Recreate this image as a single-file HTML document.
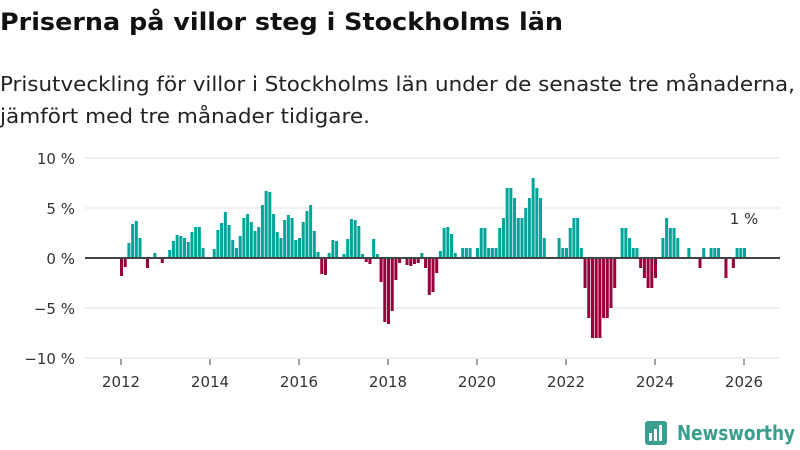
<!DOCTYPE html>
<html><head><meta charset="utf-8"><style>
body{margin:0;width:800px;height:450px;background:#fff;font-family:"DejaVu Sans","Liberation Sans",sans-serif;overflow:hidden;position:relative}
svg{position:absolute;left:0;top:0}
</style></head><body>
<svg id="chart" width="800" height="450">
<text x="0" y="30" font-size="24" font-weight="bold" fill="#111" textLength="563" lengthAdjust="spacingAndGlyphs">Priserna på villor steg i Stockholms län</text>
<text x="0" y="91" font-size="20" fill="#222" textLength="795" lengthAdjust="spacingAndGlyphs">Prisutveckling för villor i Stockholms län under de senaste tre månaderna,</text>
<text x="0" y="123" font-size="20" fill="#222" textLength="370" lengthAdjust="spacingAndGlyphs">jämfört med tre månader tidigare.</text>
</svg>
<script>
const startYear = 2012;
const values = [-1.8,-0.9,1.5,3.4,3.7,2.0,0,-1.0,0,0.5,0,-0.5,
0,0.8,1.7,2.3,2.2,2.0,1.6,2.6,3.1,3.1,1.0,0,
0,0.9,2.8,3.5,4.6,3.3,1.8,1.0,2.2,4.0,4.4,3.6,
2.7,3.1,5.3,6.7,6.6,4.4,2.6,2.0,3.8,4.3,4.0,1.8,
2.0,3.6,4.7,5.3,2.7,0.6,-1.6,-1.7,0.5,1.8,1.7,0,
0.4,1.9,3.9,3.8,3.2,0.4,-0.4,-0.6,1.9,0.4,-2.4,-6.4,
-6.6,-5.3,-2.2,-0.5,0,-0.7,-0.8,-0.6,-0.5,0.5,-1.0,-3.7,
-3.4,-1.5,0.7,3.0,3.1,2.4,0.5,0,1,1,1,0,
1,3,3,1,1,1,3,4,7,7,6,4,
4,5,6,8,7,6,2,0,0,0,2,1,
1,3,4,4,1,-3,-6,-8,-8,-8,-6,-6,
-5,-3,0,3,3,2,1,1,-1,-2,-3,-3,
-2,0,2,4,3,3,2,0,0,1,0,0,
-1,1,0,1,1,1,0,-2,0,-1,1,1,1];
const yTicks = [10,5,0,-5,-10];
const yTickLabels = ["10 %","5 %","0 %","−5 %","−10 %"];
const xTicks = [2012,2014,2016,2018,2020,2022,2024,2026];
const lastLabel = "1 %";

const NS="http://www.w3.org/2000/svg";
const svg=document.getElementById('chart');
const X0=121, PXY=44.5;
const xYear=y=>X0+(y-startYear)*PXY;
const xMonth=i=>X0-1+i*PXY/12;
const yScale=v=>258-v*10;
function mk(t,a){const e=document.createElementNS(NS,t);for(const k in a)e.setAttribute(k,a[k]);svg.appendChild(e);return e;}
yTicks.forEach((t,k)=>{
  if(t!==0){const g=mk('line',{x1:85,x2:780,y1:yScale(t),y2:yScale(t),stroke:'#e2e2e2','stroke-width':1});
  
  }
  const l=mk('text',{x:75,y:yScale(t)+6,'text-anchor':'end','font-size':15,fill:'#333'});
  l.textContent=yTickLabels[k];
  
  
});
values.forEach((v,i)=>{
  if(v===0)return;
  const y0=yScale(0),y1=yScale(v);
  const r=mk('rect',{x:xMonth(i),y:Math.min(y0,y1),width:3,height:Math.abs(y1-y0),fill:v>0?'#00a59a':'#97003b'});
  
  
});
const z=mk('line',{x1:85,x2:780,y1:yScale(0),y2:yScale(0),stroke:'#444','stroke-width':2});


xTicks.forEach(t=>{
  const tk=mk('line',{x1:xYear(t),x2:xYear(t),y1:359,y2:365,stroke:'#444','stroke-width':1});
  
  
  const l=mk('text',{x:xYear(t),y:387,'text-anchor':'middle','font-size':15,fill:'#333'});
  l.textContent=t;
  
  
});
const li=values.length-1;
const lab=mk('text',{x:xMonth(li)+1,y:yScale(values[li])-24,'text-anchor':'middle','font-size':15,fill:'#333'});
lab.textContent=lastLabel;


const lg=mk('rect',{x:645,y:421,width:22,height:24,rx:3,fill:'#3a9e8f'});


[[649,433,3,8],[654,429,3,12],[659,425,3,16]].forEach(b=>{const r=mk('rect',{x:b[0],y:b[1],width:b[2],height:b[3],fill:'#fff'});});
const lt=mk('text',{x:677,y:440,'font-size':20,fill:'#3a9e8f','font-weight':'bold',textLength:118,lengthAdjust:'spacingAndGlyphs'});
lt.textContent='Newsworthy';


</script>
</body></html>
